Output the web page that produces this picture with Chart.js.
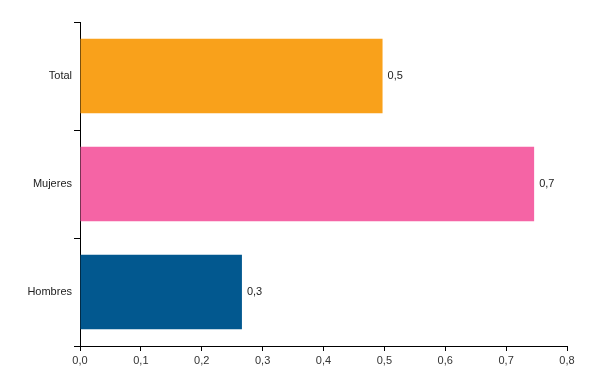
<!DOCTYPE html>
<html>
<head>
<meta charset="utf-8">
<script src="https://cdn.jsdelivr.net/npm/chart.js@4/dist/chart.umd.min.js"></script>
<style>
  html, body { margin: 0; padding: 0; background: #fff; }
  #wrap { width: 600px; height: 391px; position: relative; }
</style>
</head>
<body>
<div id="wrap"><canvas id="c"></canvas></div>
<script>
  var categories = ["Total", "Mujeres", "Hombres"];
  var values = [0.497, 0.746, 0.266];
  var barColors = ["#F9A11B", "#F564A5", "#02588F"];
  var xTicks = [0, 0.1, 0.2, 0.3, 0.4, 0.5, 0.6, 0.7, 0.8];

  var comma = function (v, d) { return v.toFixed(d).replace(".", ","); };

  /* value labels at bar ends */
  var endLabels = {
    id: "endLabels",
    afterDatasetsDraw: function (chart) {
      var ctx = chart.ctx;
      var meta = chart.getDatasetMeta(0);
      ctx.save();
      ctx.font = "11px 'Liberation Sans', Arial, sans-serif";
      ctx.fillStyle = "#222";
      ctx.textAlign = "left";
      ctx.textBaseline = "middle";
      meta.data.forEach(function (bar, i) {
        ctx.fillText(comma(values[i], 1), bar.x + 5, bar.y);
      });
      ctx.restore();
    }
  };

  Chart.defaults.font.family = "'Liberation Sans', Arial, sans-serif";
  Chart.defaults.font.size = 11;
  Chart.defaults.color = "#222";

  new Chart(document.getElementById("c"), {
    type: "bar",
    data: {
      labels: categories,
      datasets: [{ data: values, backgroundColor: barColors, categoryPercentage: 1, barPercentage: 0.69 }]
    },
    options: {
      indexAxis: "y",
      responsive: true, maintainAspectRatio: false, animation: false,
      layout: { padding: { top: 22, right: 33, left: 0, bottom: 0 } },
      plugins: { legend: { display: false }, tooltip: { enabled: false } },
      scales: {
        x: {
          min: 0, max: 0.8,
          afterBuildTicks: function (s) { s.ticks = xTicks.map(function (v) { return { value: v }; }); },
          afterFit: function (s) { s.height = 45; },
          grid: { drawOnChartArea: false, drawTicks: true, tickLength: 5, color: "#000" },
          border: { color: "#000", width: 1 },
          ticks: { padding: 3, color: "#333", callback: function (v) { return comma(v, 1); } }
        },
        y: {
          afterFit: function (s) { s.width = 80; },
          grid: { drawOnChartArea: false, drawTicks: true, tickLength: 6, offset: true, color: "#000" },
          border: { color: "#000", width: 1 },
          ticks: { padding: 2, color: "#222" }
        }
      }
    },
    plugins: [endLabels]
  });
</script>
</body>
</html>
